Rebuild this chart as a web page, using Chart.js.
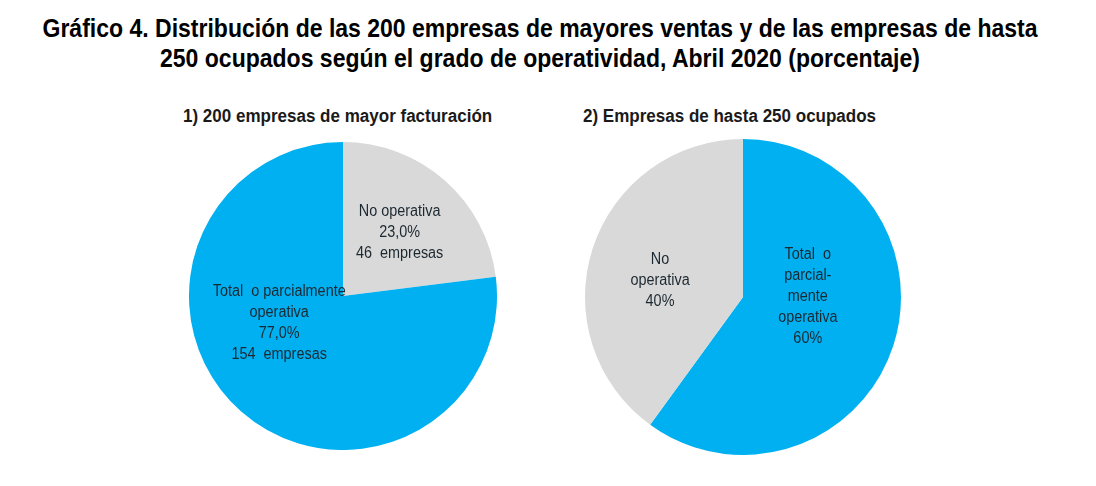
<!DOCTYPE html>
<html>
<head>
<meta charset="utf-8">
<script src="https://cdn.jsdelivr.net/npm/chart.js@4.4.1/dist/chart.umd.min.js"></script>
<style>
  body { margin: 0; background: #fff; width: 1096px; height: 486px; overflow: hidden; position: relative;
         font-family: "Liberation Sans", Arial, sans-serif; }
  #titulo { position: absolute; left: -110px; top: 13px; width: 1300px; text-align: center; white-space: nowrap;
            font-weight: bold; font-size: 26px; line-height: 30px; color: #000;
            transform: scaleX(0.885); transform-origin: 650px 0; }
  .sub { position: absolute; top: 106px; font-weight: bold; font-size: 18px; color: #1a1a1a; white-space: nowrap;
         transform: scaleX(0.945); transform-origin: 0 0; }
  .pie { position: absolute; }
</style>
</head>
<body>
<div id="titulo">Gráfico 4. Distribución de las 200 empresas de mayores ventas y de las empresas de hasta<br>250 ocupados según el grado de operatividad, Abril 2020 (porcentaje)</div>
<div class="sub" style="left:183px">1) 200 empresas de mayor facturación</div>
<div class="sub" style="left:583px">2) Empresas de hasta 250 ocupados</div>
<div class="pie" style="left:189px; top:142px; width:308px; height:308px"><canvas id="pie1"></canvas></div>
<div class="pie" style="left:585px; top:139px; width:316px; height:316px"><canvas id="pie2"></canvas></div>
<script>
// 1) 200 empresas de mayor facturación
const categorias1 = ['No operativa', 'Total o parcialmente operativa'];
const valores1 = [23.0, 77.0];
const etiquetas1 = [
  ['No operativa', '23,0%', '46  empresas'],
  ['Total  o parcialmente', 'operativa', '77,0%', '154  empresas']
];

// 2) Empresas de hasta 250 ocupados
const categorias2 = ['Total o parcialmente operativa', 'No operativa'];
const valores2 = [60, 40];
const etiquetas2 = [
  ['Total  o', 'parcial-', 'mente', 'operativa', '60%'],
  ['No', 'operativa', '40%']
];

const AZUL = '#00b0f0';
const GRIS = '#d9d9d9';

// texto dentro de cada porción: ángulo (grados desde arriba, sentido horario) y fracción del radio
const textoPorciones = {
  id: 'textoPorciones',
  afterDatasetsDraw(chart, args, opts) {
    const ctx = chart.ctx;
    const meta = chart.getDatasetMeta(0);
    const estrecho = 0.9; // imita una fuente estrecha
    meta.data.forEach((arc, i) => {
      const pos = opts.pos[i];
      const ang = pos[0] * Math.PI / 180;
      const r = arc.outerRadius * pos[1];
      const cx = arc.x + r * Math.sin(ang);
      const cy = arc.y - r * Math.cos(ang);
      const lineas = opts.textos[i];
      const lh = 21;
      ctx.save();
      ctx.translate(cx, cy);
      ctx.scale(estrecho, 1);
      ctx.font = '16px "Liberation Sans", Arial, sans-serif';
      ctx.fillStyle = '#1c2830';
      ctx.textAlign = 'center';
      ctx.textBaseline = 'middle';
      lineas.forEach((t, k) => {
        ctx.fillText(t, 0, (k - (lineas.length - 1) / 2) * lh);
      });
      ctx.restore();
    });
  }
};

function pie(id, categorias, valores, colores, textos, pos) {
  new Chart(document.getElementById(id), {
    type: 'pie',
    data: {
      labels: categorias,
      datasets: [{
        data: valores,
        backgroundColor: colores,
        borderWidth: 0
      }]
    },
    options: {
      responsive: true,
      maintainAspectRatio: false,
      animation: false,
      layout: { padding: 0 },
      plugins: {
        legend: { display: false },
        tooltip: { enabled: false },
        textoPorciones: { textos: textos, pos: pos }
      }
    },
    plugins: [textoPorciones]
  });
}

pie('pie1', categorias1, valores1, [GRIS, AZUL], etiquetas1, [[42, 0.55], [247, 0.45]]);
pie('pie2', categorias2, valores2, [AZUL, GRIS], etiquetas2, [[90, 0.41], [281, 0.535]]);
</script>
</body>
</html>
